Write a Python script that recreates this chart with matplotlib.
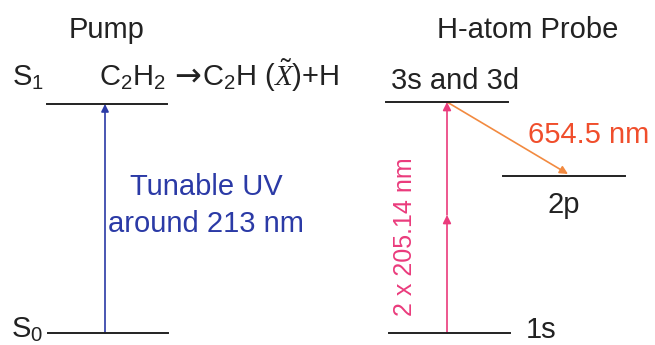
import matplotlib.pyplot as plt
from matplotlib.patches import FancyArrowPatch

plt.rcParams['font.family'] = ['Liberation Sans', 'DejaVu Sans']
plt.rcParams['mathtext.fontset'] = 'custom'
plt.rcParams['mathtext.rm'] = 'Liberation Sans'
plt.rcParams['mathtext.it'] = 'Liberation Serif:italic'

# energy levels
pump_levels = ['S$_1$', 'S$_0$']
pump_y = [104, 333]
probe_levels = ['3s and 3d', '2p', '1s']
probe_y = [102, 176, 333]

pump_col = '#2b3aa6'
probe_col = '#ea3b7c'
emit_col = '#f28a40'
emit_txt = '#f04e2c'
ink = '#222222'

fig = plt.figure(figsize=(6.55, 3.45), dpi=100)
ax = fig.add_axes([0, 0, 1, 1])
ax.set_xlim(0, 655)
ax.set_ylim(345, 0)
ax.axis('off')

fs = 21

# level lines
ax.plot([47, 167], [pump_y[0]] * 2, color=ink, lw=1.4)
ax.plot([48, 168], [pump_y[1]] * 2, color=ink, lw=1.4)
ax.plot([386, 508], [probe_y[0]] * 2, color=ink, lw=1.4)
ax.plot([503, 625], [probe_y[1]] * 2, color=ink, lw=1.4)
ax.plot([389, 510], [probe_y[2]] * 2, color=ink, lw=1.4)

# headings
ax.text(107, 38, 'Pump', fontsize=fs, ha='center', va='baseline', color=ink)
ax.text(528, 38, 'H-atom Probe', fontsize=fs, ha='center', va='baseline', color=ink)

# level labels
ax.text(12, 86, pump_levels[0], fontsize=fs, ha='left', va='baseline', color=ink)
ax.text(11, 338, pump_levels[1], fontsize=fs, ha='left', va='baseline', color=ink)
ax.text(99, 86, r'C$_2$H$_2$', fontsize=fs, ha='left', va='baseline', color=ink)
ax.text(188, 85, '→', fontsize=fs + 2, ha='center', va='baseline', color=ink,
        family='DejaVu Sans')
ax.text(202, 86, r'C$_2$H ($\tilde{X}$)+H', fontsize=fs, ha='left', va='baseline', color=ink)
ax.text(455, 89, probe_levels[0], fontsize=fs, ha='center', va='baseline', color=ink)
ax.text(564, 213, probe_levels[1], fontsize=fs, ha='center', va='baseline', color=ink)
ax.text(526, 338, probe_levels[2], fontsize=fs, ha='left', va='baseline', color=ink)

# pump arrow
ax.add_patch(FancyArrowPatch((105, pump_y[1]), (105, pump_y[0]), arrowstyle='-|>',
                             mutation_scale=11, color=pump_col, lw=1.2,
                             shrinkA=0, shrinkB=0))
ax.text(206, 195, 'Tunable UV', fontsize=fs, ha='center', va='baseline', color=pump_col)
ax.text(206, 232, 'around 213 nm', fontsize=fs, ha='center', va='baseline', color=pump_col)

# two-photon probe arrow
ax.add_patch(FancyArrowPatch((447, probe_y[2]), (447, 215), arrowstyle='-|>',
                             mutation_scale=12, color=probe_col, lw=1.2,
                             shrinkA=0, shrinkB=0))
ax.add_patch(FancyArrowPatch((447, 215), (447, probe_y[0]), arrowstyle='-|>',
                             mutation_scale=12, color=probe_col, lw=1.2,
                             shrinkA=0, shrinkB=0))
ax.text(405, 237, '2 x 205.14 nm', fontsize=18, ha='center', va='center',
        rotation=90, color=probe_col)

# emission arrow
ax.add_patch(FancyArrowPatch((447, probe_y[0]), (568, 174), arrowstyle='-|>',
                             mutation_scale=12, color=emit_col, lw=1.2,
                             shrinkA=0, shrinkB=0))
ax.text(589, 143, '654.5 nm', fontsize=fs, ha='center', va='baseline', color=emit_txt)

fig.savefig('out.png', dpi=100)
